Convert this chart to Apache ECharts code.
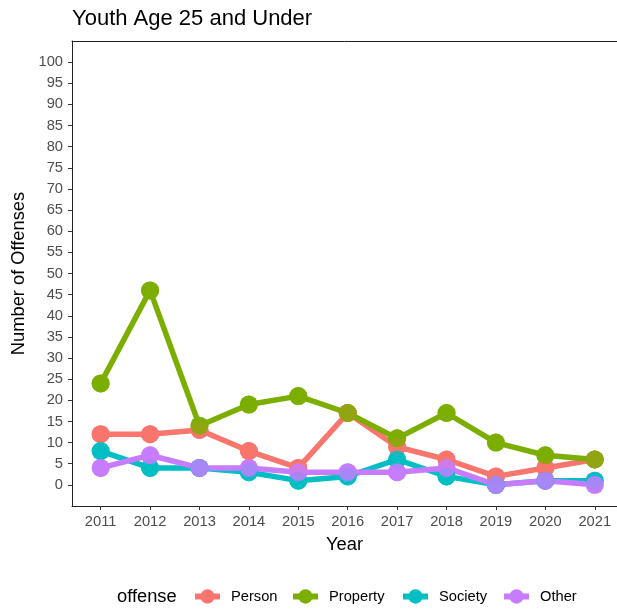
<!DOCTYPE html>
<html>
<head>
<meta charset="utf-8">
<script src="https://cdn.jsdelivr.net/npm/echarts@6/dist/echarts.min.js"></script>
<style>html,body{margin:0;padding:0;background:#fff}#c{width:617px;height:609px}</style>
</head>
<body>
<div id="c"></div>
<script>
var years = [2011, 2012, 2013, 2014, 2015, 2016, 2017, 2018, 2019, 2020, 2021];
var person = [12, 12, 13, 8, 4, 17, 9, 6, 2, 4, 6];
var property = [24, 46, 14, 19, 21, 17, 11, 17, 10, 7, 6];
var society = [8, 4, 4, 3, 1, 2, 6, 2, 0, 1, 1];
var other = [4, 7, 4, 4, 3, 3, 3, 4, 0, 1, 0];
var yTicks = [0,5,10,15,20,25,30,35,40,45,50,55,60,65,70,75,80,85,90,95,100];
var seriesNames = ['Person', 'Property', 'Society', 'Other'];
var seriesData = [person, property, society, other];
var colors = ['#F8766D', '#7CAE00', '#00BFC4', '#C77CFF'];

var FONT = '"Liberation Sans", Arial, Helvetica, sans-serif';
function pairs(vals){ return years.map(function(y,i){ return [y, vals[i]]; }); }

var series = [];
seriesNames.forEach(function(n, i){
  series.push({
    name: n, type: 'line', data: pairs(seriesData[i]),
    color: colors[i],
    lineStyle: {width: 5.5, color: colors[i]},
    symbol: 'circle', symbolSize: 18, showSymbol: true,
    itemStyle: {color: colors[i]},
    emphasis: {disabled: true}, animation: false, z: 2
  });
});
seriesNames.forEach(function(n, i){
  series.push({
    name: n + '_pt', type: 'scatter', data: pairs(seriesData[i]),
    symbol: 'circle', symbolSize: 18,
    itemStyle: {color: colors[i]},
    emphasis: {disabled: true}, animation: false, z: 3
  });
});

var legendLefts = [192, 290, 400, 501];
var legends = seriesNames.map(function(n, i){
  return {
    data: [n], left: legendLefts[i], top: 589, orient: 'horizontal', padding: 0,
    itemWidth: 25, itemHeight: 18, selectedMode: false,
    lineStyle: {width: 6},
    textStyle: {fontFamily: FONT, fontSize: 14.7, color: '#000', padding: [0,0,0,6]}
  };
});

var chart = echarts.init(document.getElementById('c'), null, {renderer: 'canvas'});
chart.setOption({
  animation: false,
  backgroundColor: '#fff',
  title: {
    text: 'Youth Age 25 and Under', left: 72, top: 8, padding: 0,
    textStyle: {fontFamily: FONT, fontSize: 22, fontWeight: 'normal', color: '#000'}
  },
  legend: legends,
  graphic: [{
    type: 'text', left: 117, top: 588,
    style: {text: 'offense', fontFamily: FONT, fontSize: 18.3, fill: '#000'}
  }],
  grid: {
    left: 72, top: 41, width: 545, height: 465, containLabel: false, show: false
  },
  xAxis: [{
    type: 'value', min: 2010.42, max: 2021.45,
    name: 'Year', nameLocation: 'middle', nameGap: 30,
    nameTextStyle: {fontFamily: FONT, fontSize: 18.3, color: '#000'},
    axisLine: {show: true, onZero: false, lineStyle: {color: '#222', width: 1}},
    axisTick: {show: true, length: 4, customValues: years, lineStyle: {color: '#333'}},
    axisLabel: {customValues: years, margin: 8, fontFamily: FONT, fontSize: 14.7, color: '#4D4D4D',
      formatter: function(v){ return String(v); }},
    splitLine: {show: false}
  }, {
    type: 'value', position: 'top', min: 2010.42, max: 2021.45,
    axisLine: {show: true, onZero: false, lineStyle: {color: '#222', width: 1}},
    axisTick: {show: false}, axisLabel: {show: false}, splitLine: {show: false}
  }],
  yAxis: {
    type: 'value', min: -5, max: 105,
    name: 'Number of Offenses', nameLocation: 'middle', nameGap: 36, nameRotate: 90,
    nameTextStyle: {fontFamily: FONT, fontSize: 18.3, color: '#000'},
    axisLine: {show: true, onZero: false, lineStyle: {color: '#222', width: 1}},
    axisTick: {show: true, length: 4, customValues: yTicks, lineStyle: {color: '#333'}},
    axisLabel: {customValues: yTicks, margin: 9, fontFamily: FONT, fontSize: 14.7, color: '#4D4D4D'},
    splitLine: {show: false}
  },
  series: series
});
</script>
</body>
</html>
